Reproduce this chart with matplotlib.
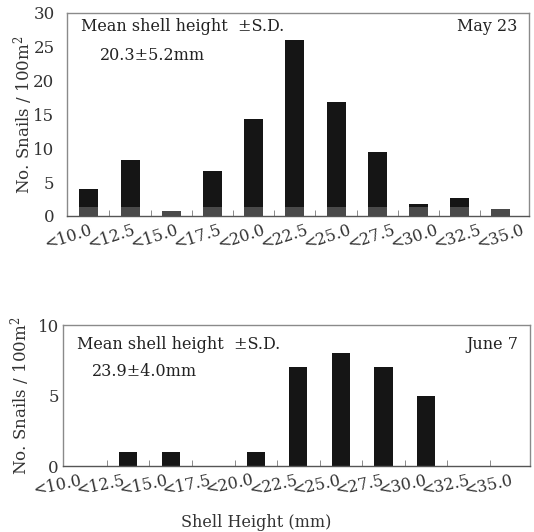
import numpy as np
import matplotlib.pyplot as plt

plt.rcParams['font.family'] = ['DejaVu Serif']
plt.rcParams['mathtext.fontset'] = 'dejavuserif'

size_classes = ["<10.0", "<12.5", "<15.0", "<17.5", "<20.0", "<22.5",
                "<25.0", "<27.5", "<30.0", "<32.5", "<35.0"]
may23_counts = [4.0, 8.3, 0.8, 6.7, 14.3, 26.0, 16.8, 9.4, 1.8, 2.7, 1.0]
june7_counts = [0, 1, 1, 0, 1, 7, 8, 7, 5, 0, 0]


def draw_panel(ax, counts, ymax, yticks, date_label, mean_text, width, xlim,
               text_y, mean_x, rot, lab_shift, lab_step, ylab_x, ypad, band=None):
    x = np.arange(len(size_classes))
    ax.bar(x, counts, width=width, color="#151515", zorder=2)
    if band is not None:
        # greyish strip at the foot of the bars in the scan
        ax.bar(x, np.minimum(counts, band), width=width, color="#4a4a4a", zorder=3)
    ax.set_xlim(*xlim)
    ax.set_ylim(0, ymax)
    ax.set_yticks(yticks)
    # labels in the scan are spaced a little differently from the bars
    ax.set_xticks(lab_shift + lab_step * x)
    ax.set_xticklabels(size_classes, rotation=rot, ha="right",
                       rotation_mode="anchor", fontsize=11.5, color="#333333")
    ax.set_xticks(x[:-1] + 0.5, minor=True)
    ax.tick_params(axis="x", which="major", length=0, pad=4)
    ax.tick_params(axis="x", which="minor", direction="in", length=4,
                   color="#777777")
    ax.tick_params(axis="y", length=0, pad=ypad, labelsize=12, labelcolor="#333333")
    for s in ax.spines.values():
        s.set_color("#8a8a8a")
        s.set_linewidth(1.0)
    ax.spines["bottom"].set_color("#555555")
    ax.set_ylabel("No. Snails / 100m$^\\mathregular{2}$", fontsize=12,
                  color="#333333")
    ax.yaxis.set_label_coords(ylab_x, 0.5)
    ax.text(0.03, text_y[0], "Mean shell height  \u00b1S.D.", transform=ax.transAxes,
            fontsize=11.5, va="center", ha="left", color="#222222")
    ax.text(mean_x, text_y[1], mean_text, transform=ax.transAxes,
            fontsize=11.5, va="center", ha="left", color="#222222")
    ax.text(0.975, text_y[0], date_label, transform=ax.transAxes,
            fontsize=11.5, va="center", ha="right", color="#222222")


fig = plt.figure(figsize=(5.34, 5.32), dpi=100)
ax1 = fig.add_axes([0.1255, 0.594, 0.865, 0.382])
ax2 = fig.add_axes([0.118, 0.124, 0.875, 0.265])

draw_panel(ax1, may23_counts, 30, [0, 5, 10, 15, 20, 25, 30], "May 23",
           "20.3\u00b15.2mm", 0.46, (-0.53, 10.68), (0.93, 0.79), 0.071, 18,
           0.0, 1.05, -0.069, 9, band=1.4)
draw_panel(ax2, june7_counts, 10, [0, 5, 10], "June 7",
           "23.9\u00b14.0mm", 0.43, (-0.53, 10.45), (0.865, 0.667), 0.062, 12,
           -0.15, 1.015, -0.066, 3)

fig.text(0.48, 0.017, "Shell Height (mm)", ha="center", va="center",
         fontsize=11.5, color="#333333")

fig.savefig("out.png", dpi=100)
